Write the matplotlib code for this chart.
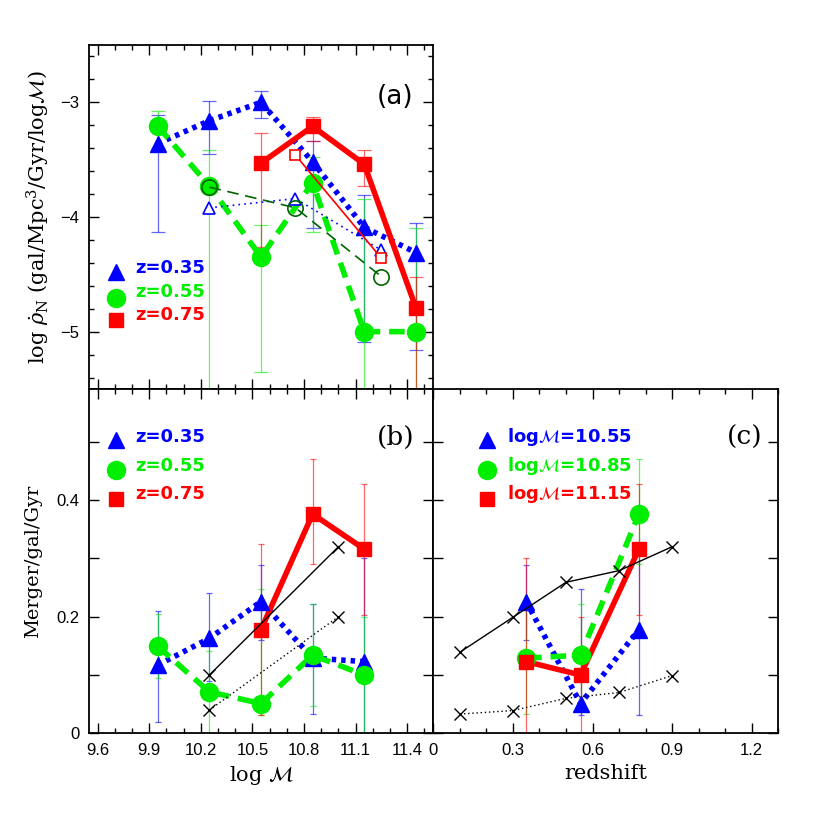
import numpy as np
import matplotlib
matplotlib.use("Agg")
import matplotlib.pyplot as plt
from matplotlib.ticker import MultipleLocator, FuncFormatter

# DATA
# panel (a): merger rate density vs stellar mass, per redshift bin
mass_a = [9.95, 10.25, 10.55, 10.85, 11.15, 11.45]
rho_z035 = [-3.36, -3.16, -3.00, -3.52, -4.09, -4.31]
rho_z035_lo = [-4.13, -3.45, -3.14, -4.10, -5.09, -5.16]
rho_z035_hi = [-3.11, -2.99, -2.90, -3.34, -3.81, -4.05]
rho_z055 = [-3.21, -3.73, -4.35, -3.70, -5.00, -5.00]
rho_z055_lo = [-3.40, -5.60, -5.35, -4.13, -5.60, -5.60]
rho_z055_hi = [-3.08, -3.42, -4.07, -3.48, -3.84, -4.10]
rho_z075 = [np.nan, np.nan, -3.53, -3.21, -3.54, -4.79]
rho_z075_lo = [np.nan, np.nan, -4.26, -3.34, -3.73, -5.60]
rho_z075_hi = [np.nan, np.nan, -3.27, -3.13, -3.42, -4.52]

# open symbols in panel (a)
mass_open = [10.25, 10.75, 11.25]
rho_open_z035 = [-3.92, -3.84, -4.29]
rho_open_z055 = [-3.74, -3.92, -4.52]
rho_open_z075 = [np.nan, -3.46, -4.36]

# panel (b): merger/gal/Gyr vs stellar mass
mass_b = [9.95, 10.25, 10.55, 10.85, 11.15]
rate_z035 = [0.117, 0.163, 0.226, 0.129, 0.123]
rate_z035_lo = [0.019, 0.090, 0.160, 0.033, -0.050]
rate_z035_hi = [0.210, 0.240, 0.289, 0.222, 0.300]
rate_z055 = [0.149, 0.071, 0.051, 0.134, 0.100]
rate_z055_lo = [0.094, -0.050, 0.031, 0.047, -0.050]
rate_z055_hi = [0.205, 0.141, 0.247, 0.222, 0.200]
rate_z075 = [np.nan, np.nan, 0.178, 0.376, 0.316]
rate_z075_lo = [np.nan, np.nan, 0.031, 0.290, 0.203]
rate_z075_hi = [np.nan, np.nan, 0.324, 0.470, 0.427]

# comparison crosses
mass_cross = [10.25, 11.0]
cross_solid_b = [0.10, 0.32]
cross_dotted_b = [0.04, 0.20]

# panel (c): same rates vs redshift
redshift = [0.35, 0.555, 0.775]
z_cross = [0.1, 0.3, 0.5, 0.7, 0.9]
cross_solid_c = [0.139, 0.199, 0.259, 0.279, 0.320]
cross_dotted_c = [0.033, 0.039, 0.060, 0.070, 0.099]

z_labels = ["z=0.35", "z=0.55", "z=0.75"]
m_labels = [r"log$\mathcal{M}$=10.55", r"log$\mathcal{M}$=10.85", r"log$\mathcal{M}$=11.15"]

BLUE = "#0000ff"
GREEN = "#00ee00"
RED = "#ff0000"

plt.rcParams["font.family"] = ["DejaVu Serif"]
plt.rcParams["mathtext.fontset"] = "dejavuserif"

fig = plt.figure(figsize=(8.22, 8.22), dpi=100)
ax_a = fig.add_axes([0.1083, 0.5268, 0.4185, 0.4185])
ax_b = fig.add_axes([0.1083, 0.1079, 0.4185, 0.4185])
ax_c = fig.add_axes([0.5271, 0.1079, 0.4197, 0.4185])


def errs(vals, lo, hi):
    v = np.array(vals)
    return [v - np.array(lo), np.array(hi) - v]


def draw_series(ax, x, y, lo, hi, color, marker, ms, ls, capsize):
    ax.errorbar(x, y, yerr=errs(y, lo, hi), fmt="none", ecolor=color,
                elinewidth=0.9, capsize=capsize, capthick=0.9, alpha=0.6,
                zorder=2)
    if ls == "dotted":
        ax.plot(x, y, color=color, lw=4, dashes=(0.8, 0.9), zorder=3)
    elif ls == "dashed":
        ax.plot(x, y, color=color, lw=4, dashes=(2.8, 1.6), zorder=3)
    else:
        ax.plot(x, y, color=color, lw=4, zorder=3)
    ax.plot(x, y, ls="none", marker=marker, ms=ms, color=color, zorder=4)


def legend_block(ax, labels, xm, xt, ym, yt, fs):
    markers = [("^", BLUE, 12), ("o", GREEN, 13), ("s", RED, 10)]
    for (m, c, s), lab, y1, y2 in zip(markers, labels, ym, yt):
        ax.plot([xm], [y1], marker=m, color=c, ms=s, transform=ax.transAxes,
                clip_on=False, zorder=5)
        ax.text(xt, y2, lab, color=c, fontsize=fs, fontweight="bold",
                family="DejaVu Sans", va="center", ha="left",
                transform=ax.transAxes)


def style_axes(ax):
    ax.tick_params(which="both", direction="in", top=True, right=True,
                   labelsize=12, labelfontfamily="Liberation Sans", pad=7)
    ax.tick_params(which="major", length=7.5, width=1)
    ax.tick_params(which="minor", length=3.8, width=1)
    for sp in ax.spines.values():
        sp.set_linewidth(1.3)


# PANEL A
draw_series(ax_a, mass_a, rho_z035, rho_z035_lo, rho_z035_hi, BLUE, "^", 12, "dotted", 5)
draw_series(ax_a, mass_a, rho_z055, rho_z055_lo, rho_z055_hi, GREEN, "o", 13, "dashed", 5)
draw_series(ax_a, mass_a, rho_z075, rho_z075_lo, rho_z075_hi, RED, "s", 10, "solid", 5)

ax_a.plot(mass_open, rho_open_z035, color=BLUE, lw=1.2, dashes=(1, 2.5),
          marker="^", ms=8, mfc="white", mec=BLUE, mew=1.2, zorder=5)
ax_a.plot(mass_open, rho_open_z055, color="#006400", lw=1.2, dashes=(7, 4),
          marker="o", ms=11, mfc="none", mec="#006400", mew=1.2, zorder=5)
ax_a.plot(mass_open, rho_open_z075, color=RED, lw=1.2,
          marker="s", ms=7.5, mfc="white", mec=RED, mew=1.2, zorder=5)

ax_a.set_xlim(9.55, 11.55)
ax_a.set_ylim(-5.5, -2.5)
ax_a.xaxis.set_major_locator(MultipleLocator(0.3))
ax_a.xaxis.set_minor_locator(MultipleLocator(0.1))
ax_a.yaxis.set_major_locator(MultipleLocator(1))
ax_a.yaxis.set_minor_locator(MultipleLocator(0.2))
style_axes(ax_a)
ax_a.tick_params(labelbottom=False)
ax_a.set_ylabel(r"log $\dot{\rho}_{\rm N}$ (gal/Mpc$^3$/Gyr/log$\mathcal{M}$)",
                fontsize=15, labelpad=6)
ax_a.text(0.89, 0.85, "(a)", transform=ax_a.transAxes, fontsize=19,
          family="DejaVu Sans", ha="center", va="center")
legend_block(ax_a, z_labels, 0.078, 0.134, [0.341, 0.264, 0.2],
             [0.352, 0.283, 0.215], 13)

# PANEL B
draw_series(ax_b, mass_b, rate_z035, rate_z035_lo, rate_z035_hi, BLUE, "^", 12, "dotted", 2.5)
draw_series(ax_b, mass_b, rate_z055, rate_z055_lo, rate_z055_hi, GREEN, "o", 13, "dashed", 2.5)
draw_series(ax_b, mass_b, rate_z075, rate_z075_lo, rate_z075_hi, RED, "s", 10, "solid", 2.5)
ax_b.plot(mass_cross, cross_solid_b, color="black", lw=1, marker="x", ms=9, zorder=5)
ax_b.plot(mass_cross, cross_dotted_b, color="black", lw=1, dashes=(1, 2),
          marker="x", ms=9, zorder=5)

ax_b.set_xlim(9.55, 11.55)
ax_b.set_ylim(0, 0.59)
ax_b.xaxis.set_major_locator(MultipleLocator(0.3))
ax_b.xaxis.set_minor_locator(MultipleLocator(0.1))
ax_b.yaxis.set_major_locator(MultipleLocator(0.2))
ax_b.yaxis.set_minor_locator(MultipleLocator(0.1))
style_axes(ax_b)
ax_b.tick_params(which="minor", axis="y", length=7.5)
ax_b.xaxis.set_major_formatter(FuncFormatter(lambda v, p: f"{v:.1f}"))
ax_b.yaxis.set_major_formatter(FuncFormatter(lambda v, p: "0" if abs(v) < 1e-9 else f"{v:.1f}"))
ax_b.set_xlabel(r"log $\mathcal{M}$", fontsize=15, labelpad=4)
ax_b.set_ylabel("Merger/gal/Gyr", fontsize=14, labelpad=10)
ax_b.text(0.89, 0.86, "(b)", transform=ax_b.transAxes, fontsize=19,
          ha="center", va="center")
legend_block(ax_b, z_labels, 0.078, 0.134, [0.853, 0.765, 0.68],
             [0.862, 0.777, 0.695], 13)

# PANEL C (rows of panel b at logM = 10.55, 10.85, 11.15)
rates = np.array([rate_z035, rate_z055, rate_z075])
rates_lo = np.array([rate_z035_lo, rate_z055_lo, rate_z075_lo])
rates_hi = np.array([rate_z035_hi, rate_z055_hi, rate_z075_hi])
series_c = [(2, BLUE, "^", 12, "dotted"), (3, GREEN, "o", 13, "dashed"), (4, RED, "s", 10, "solid")]
for col, color, marker, ms, ls in series_c:
    draw_series(ax_c, redshift, rates[:, col], rates_lo[:, col], rates_hi[:, col],
                color, marker, ms, ls, 2.5)
ax_c.plot(z_cross, cross_solid_c, color="black", lw=1, marker="x", ms=9, zorder=5)
ax_c.plot(z_cross, cross_dotted_c, color="black", lw=1, dashes=(1, 2),
          marker="x", ms=9, zorder=5)

ax_c.set_xlim(0, 1.3)
ax_c.set_ylim(0, 0.59)
ax_c.xaxis.set_major_locator(MultipleLocator(0.3))
ax_c.xaxis.set_minor_locator(MultipleLocator(0.1))
ax_c.yaxis.set_major_locator(MultipleLocator(0.2))
ax_c.yaxis.set_minor_locator(MultipleLocator(0.1))
style_axes(ax_c)
ax_c.tick_params(which="minor", axis="y", length=7.5)
ax_c.tick_params(labelleft=False)
ax_c.xaxis.set_major_formatter(FuncFormatter(lambda v, p: "0" if abs(v) < 1e-9 else f"{v:.1f}"))
ax_c.set_xlabel("redshift", fontsize=15, labelpad=4)
ax_c.text(0.904, 0.86, "(c)", transform=ax_c.transAxes, fontsize=19,
          ha="center", va="center")
legend_block(ax_c, m_labels, 0.155, 0.213, [0.853, 0.765, 0.68],
             [0.862, 0.777, 0.695], 13)

fig.savefig("out.png", dpi=100)
